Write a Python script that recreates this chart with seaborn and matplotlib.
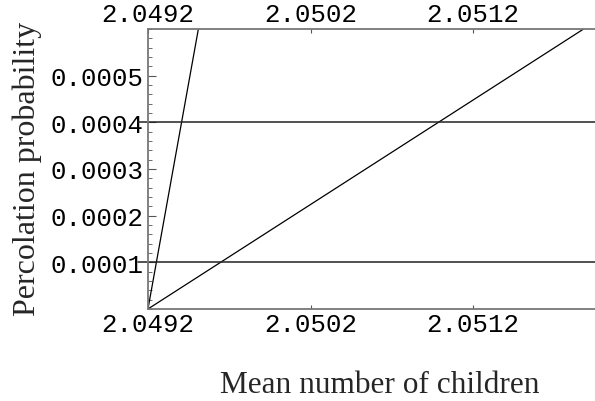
import numpy as np
import pandas as pd
import matplotlib.pyplot as plt
from matplotlib.ticker import FixedLocator, MultipleLocator
import seaborn as sns

# data
steep_x = [2.0492, 2.04951]
steep_y = [0.0, 0.0006]
shallow_x = [2.0492, 2.05188]
shallow_y = [0.0, 0.0006]
levels = [0.0001, 0.0004]
x_ticks = [2.0492, 2.0502, 2.0512]
y_ticks = [0.0001, 0.0002, 0.0003, 0.0004, 0.0005]

sns.set_style('white')

fig = plt.figure(figsize=(5.95, 4.02), dpi=100)
ax = fig.add_axes([0.2487, 0.2289, 0.7513, 0.6965])

df = pd.concat([
    pd.DataFrame({'x': steep_x, 'y': steep_y, 'curve': 'steep'}),
    pd.DataFrame({'x': shallow_x, 'y': shallow_y, 'curve': 'shallow'}),
])
sns.lineplot(data=df, x='x', y='y', units='curve', estimator=None,
             color='black', linewidth=0.9, ax=ax, legend=False)

for lv in levels:
    ax.axhline(lv, xmin=-0.022, xmax=1, color='#222222', linewidth=1.1, clip_on=False)

ax.set_xlim(2.0492, 2.05195)
ax.set_ylim(0, 0.0006)

mono = 'Liberation Mono'
ax.xaxis.set_major_locator(FixedLocator(x_ticks))
ax.yaxis.set_major_locator(FixedLocator(y_ticks))
ax.yaxis.set_minor_locator(MultipleLocator(0.00002))
ax.set_xticklabels(['%.4f' % v for v in x_ticks], family=mono, fontsize=18.5)
ax.set_yticklabels(['%.4f' % v for v in y_ticks], family=mono, fontsize=18.5)

ax.tick_params(axis='x', which='major', direction='in', length=3, width=0.8,
               top=True, bottom=True, labeltop=True, labelbottom=True, pad=2, colors='#555555',
               labelcolor='black')
ax.tick_params(axis='y', which='major', direction='in', length=6, width=0.8,
               left=True, pad=3, colors='#555555', labelcolor='black')
ax.tick_params(axis='y', which='minor', direction='in', length=3, width=0.6,
               left=True, colors='#555555')

for side in ['left', 'top', 'bottom']:
    ax.spines[side].set_color('#777777')
    ax.spines[side].set_linewidth(1.3)
ax.spines['right'].set_visible(False)

ax.set_xlabel('')
ax.set_ylabel('')
fig.text(0.045, 0.5796, 'Percolation probability', family='Liberation Serif',
         fontsize=23, rotation=90, ha='center', va='center')
fig.text(0.639, 0.022, 'Mean number of children', family='Liberation Serif',
         fontsize=22.5, ha='center', va='baseline')

fig.savefig('out.png', dpi=100)
